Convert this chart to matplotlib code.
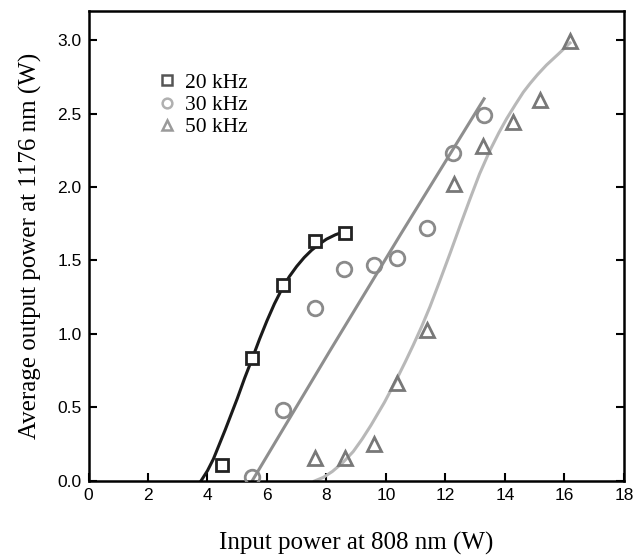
import matplotlib
matplotlib.use("Agg")
import matplotlib.pyplot as plt
from matplotlib.lines import Line2D

# measured data
sq_x = [4.48, 5.50, 6.54, 7.62, 8.64]
sq_y = [0.11, 0.835, 1.33, 1.63, 1.69]
ci_x = [5.50, 6.53, 7.61, 8.60, 9.60, 10.36, 11.37, 12.27, 13.29]
ci_y = [0.03, 0.48, 1.175, 1.44, 1.47, 1.52, 1.72, 2.23, 2.49]
tr_x = [7.61, 8.62, 9.60, 10.38, 11.37, 12.29, 13.27, 14.27, 15.18, 16.19]
tr_y = [0.155, 0.155, 0.25, 0.67, 1.03, 2.02, 2.28, 2.44, 2.59, 2.99]

# fitted curves
fit20_x = [3.78, 4.0, 4.2, 4.4, 4.6, 4.8, 5.0, 5.25, 5.5, 5.75, 6.0, 6.25, 6.5, 6.75, 7.0, 7.25,
           7.5, 7.75, 8.0, 8.3, 8.64]
fit20_y = [0.0, 0.07, 0.15, 0.25, 0.35, 0.455, 0.56, 0.70, 0.83, 0.965, 1.09, 1.205, 1.305, 1.39,
           1.46, 1.52, 1.57, 1.61, 1.645, 1.675, 1.70]
fit30_x = [5.5, 8.1, 10.5, 13.3]
fit30_y = [0.0, 0.88, 1.68, 2.60]
fit50_x = [7.6, 7.9, 8.2, 8.55, 8.9, 9.2, 9.5, 9.95, 10.38, 10.65, 10.92, 11.2, 11.48, 11.8,
           12.15, 12.5, 12.82, 13.15, 13.5, 13.8, 14.06, 14.35, 14.62, 14.85, 15.1, 15.4,
           15.8, 16.19]
fit50_y = [0.0, 0.025, 0.065, 0.125, 0.2, 0.285, 0.38, 0.535, 0.70, 0.81, 0.925, 1.05, 1.185,
           1.355, 1.545, 1.74, 1.915, 2.09, 2.25, 2.37, 2.465, 2.56, 2.645, 2.705, 2.765, 2.83,
           2.905, 2.98]

labels = ["20 kHz", "30 kHz", "50 kHz"]
xticks = list(range(0, 19, 2))
yticks = [0.0, 0.5, 1.0, 1.5, 2.0, 2.5, 3.0]

fig = plt.figure(figsize=(6.34, 5.58), dpi=100)
ax = fig.add_axes([0.1396, 0.138, 0.8444, 0.843])

ax.plot(fit20_x, fit20_y, color="#1a1a1a", lw=2.2, zorder=2, solid_joinstyle="round")
ax.plot(fit30_x, fit30_y, color="#8e8e8e", lw=2.2, zorder=2)
ax.plot(fit50_x, fit50_y, color="#b8b8b8", lw=2.2, zorder=2, solid_joinstyle="round")

ax.plot(sq_x, sq_y, ls="none", marker="s", ms=9, mfc="white", mec="#222222", mew=2, zorder=3)
ax.plot(ci_x, ci_y, ls="none", marker="o", ms=10.5, mfc="none", mec="#8a8a8a", mew=2, zorder=3)
ax.plot(tr_x, tr_y, ls="none", marker="^", ms=10, mfc="none", mec="#787878", mew=2, zorder=3)

ax.set_xlim(0, 18)
ax.set_ylim(0, 3.2)
ax.set_xticks(xticks)
ax.set_yticks(yticks)
ax.set_xticklabels([str(t) for t in xticks], family="Liberation Sans", fontsize=12.5)
ax.set_yticklabels([f"{t:.1f}" for t in yticks], family="Liberation Sans", fontsize=12.5)
ax.tick_params(axis="both", direction="in", length=6, width=1.5, pad=5)
ax.tick_params(axis="y", right=True, labelright=False)
for s in ax.spines.values():
    s.set_linewidth(1.8)

ax.set_xlabel("Input power at 808 nm (W)", family="Liberation Serif", fontsize=18, labelpad=21)
ax.set_ylabel("Average output power at 1176 nm (W)", family="Liberation Serif", fontsize=18, labelpad=11)

handles = [
    Line2D([], [], ls="none", marker="s", ms=7, mfc="none", mec="#555555", mew=1.8),
    Line2D([], [], ls="none", marker="o", ms=7, mfc="none", mec="#b0b0b0", mew=1.8),
    Line2D([], [], ls="none", marker="^", ms=7, mfc="none", mec="#9a9a9a", mew=1.8),
]
leg = ax.legend(handles, labels, loc="upper left", bbox_to_anchor=(0.1305, 0.8675),
                frameon=False, prop={"family": "Liberation Serif", "size": 15.5},
                handlelength=0.8, handletextpad=0.45, labelspacing=0.1, borderpad=0,
                borderaxespad=0)

fig.savefig("out.png", dpi=100)
